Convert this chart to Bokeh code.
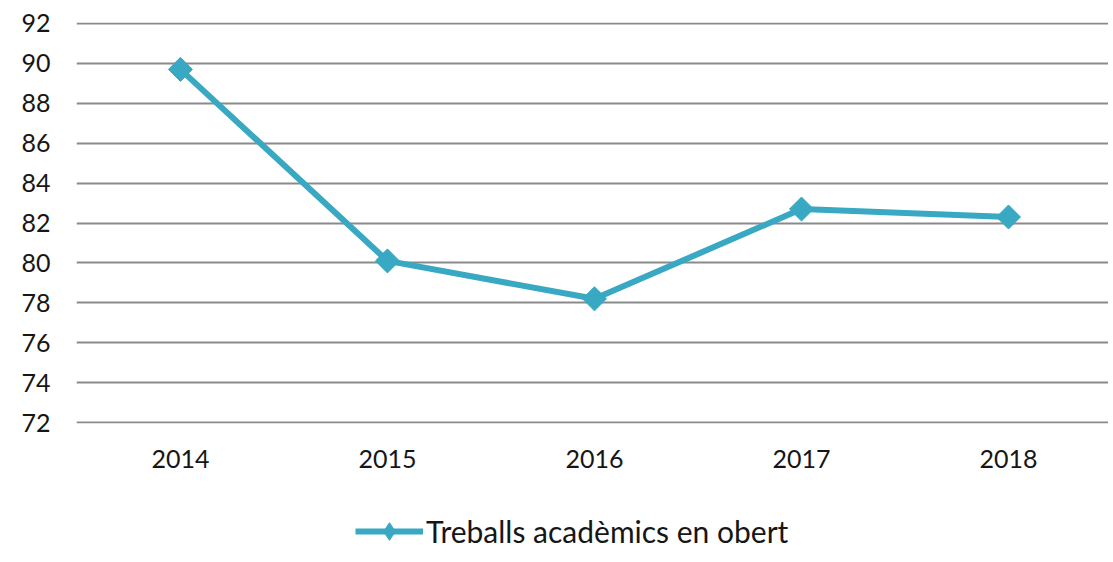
import numpy as np
from bokeh.plotting import figure
from bokeh.layouts import column
from bokeh.models import Range1d, FixedTicker, Legend, LegendItem, ColumnDataSource
from bokeh.embed import file_html
from bokeh.resources import INLINE

years = ["2014", "2015", "2016", "2017", "2018"]
values = [89.7, 80.1, 78.2, 82.7, 82.3]
y_ticks = [72, 74, 76, 78, 80, 82, 84, 86, 88, 90, 92]
series_name = "Treballs acadèmics en obert"

xs = list(range(len(years)))
src = ColumnDataSource(dict(x=xs, y=values))

COLOR = "#38a8c3"
FONT = "Lato"
TEXT = "#161616"
W = 1108

p = figure(width=W, height=490, output_backend="svg", toolbar_location=None,
           x_range=Range1d(-0.502, 4.483), y_range=Range1d(71.95, 92.05),
           min_border_left=76, min_border_right=0, min_border_top=22,
           min_border_bottom=67)
p.outline_line_color = None
p.border_fill_color = "white"

p.xgrid.grid_line_color = None
p.ygrid.grid_line_color = "#8a8a8a"
p.ygrid.grid_line_width = 2
p.yaxis.ticker = FixedTicker(ticks=y_ticks)
p.xaxis.ticker = FixedTicker(ticks=xs)
p.xaxis.major_label_overrides = {i: y for i, y in enumerate(years)}

for ax in (p.xaxis, p.yaxis):
    ax.axis_line_color = None
    ax.major_tick_line_color = None
    ax.minor_tick_line_color = None
    ax.major_tick_out = 0
    ax.major_tick_in = 0
    ax.minor_tick_out = 0
    ax.minor_tick_in = 0
    ax.major_label_text_font = FONT
    ax.major_label_text_font_size = "25px"
    ax.major_label_text_color = TEXT
p.yaxis.major_label_standoff = 26
p.xaxis.major_label_standoff = 26

p.line("x", "y", source=src, line_color=COLOR, line_width=6)
p.scatter("x", "y", source=src, marker="square", size=17, angle=np.pi / 4,
          fill_color=COLOR, line_color=COLOR)

# legend strip below the chart
q = figure(width=W, height=68, output_backend="svg", toolbar_location=None,
           x_range=Range1d(100, 101), y_range=Range1d(100, 101),
           x_axis_type=None, y_axis_type=None,
           min_border_left=0, min_border_right=0, min_border_top=0,
           min_border_bottom=0)
q.outline_line_color = None
q.xgrid.grid_line_color = None
q.ygrid.grid_line_color = None
ql = q.line("x", "y", source=src, line_color=COLOR, line_width=6)
qs = q.scatter("x", "y", source=src, marker="diamond", size=20,
               fill_color=COLOR, line_color=COLOR)
legend = Legend(items=[LegendItem(label=series_name, renderers=[ql, qs])],
                location=(279, 5), orientation="horizontal",
                glyph_width=68, glyph_height=44, label_text_font=FONT,
                label_text_font_size="30px", label_text_color=TEXT,
                padding=0, margin=0, label_standoff=3,
                border_line_color=None, background_fill_alpha=0)
q.add_layout(legend, "center")

open("out.html", "w").write(file_html(column(p, q, spacing=0), INLINE))
